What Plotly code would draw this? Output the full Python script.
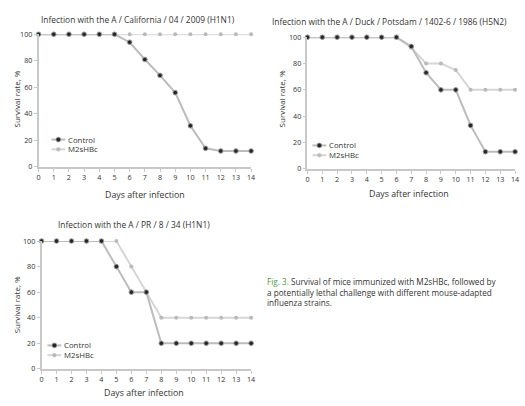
import plotly.graph_objects as go

W, H = 525, 406

DAYS = list(range(15))
SERIES_NAMES = ["Control", "M2sHBc"]
PANEL_TITLES = [
    "Infection with the A / California / 04 / 2009 (H1N1)",
    "Infection with the A / Duck / Potsdam / 1402-6 / 1986 (H5N2)",
    "Infection with the A / PR / 8 / 34 (H1N1)",
]
X_TITLE = "Days after infection"
Y_TITLE = "Survival rate, %"
Y_TICKS = [0, 20, 40, 60, 80, 100]

CAL_CONTROL = [100, 100, 100, 100, 100, 100, 94, 81, 69, 56, 31, 14, 12, 12, 12]
CAL_M2SHBC = [100, 100, 100, 100, 100, 100, 100, 100, 100, 100, 100, 100, 100, 100, 100]
DUCK_CONTROL = [100, 100, 100, 100, 100, 100, 100, 93, 73, 60, 60, 33, 13, 13, 13]
DUCK_M2SHBC = [100, 100, 100, 100, 100, 100, 100, 92, 80, 80, 75, 60, 60, 60, 60]
PR8_CONTROL = [100, 100, 100, 100, 100, 80, 60, 60, 20, 20, 20, 20, 20, 20, 20]
PR8_M2SHBC = [100, 100, 100, 100, 100, 100, 80, 60, 40, 40, 40, 40, 40, 40, 40]

CAPTION_LABEL = "Fig. 3."
CAPTION_TEXT = ("Survival of mice immunized with M2sHBc, followed by<br>"
                "a potentially lethal challenge with different mouse-adapted<br>"
                "influenza strains.")

FONT = "Open Sans"
TXT = "#333333"
C_CTRL_LINE = "#bcbcbc"
C_CTRL_MK = "#262626"
C_M2_LINE = "#d6d6d6"
C_M2_MK = "#bababa"
AX = "#c8c8c8"


def px(x):
    return x / W


def py(y):
    return 1 - y / H


# panel geometry in pixels: x0 (day 0), x1 (day 14), ytop (100 %), ybot (0 %)
panels = [
    dict(x0=37, x1=252, ytop=30, ybot=166, data=(CAL_CONTROL, CAL_M2SHBC),
         title=(138, 15), xt=(145, 195), yt=(15, 96), leg=(57, 138, 10)),
    dict(x0=309, x1=519, ytop=33, ybot=168, data=(DUCK_CONTROL, DUCK_M2SHBC),
         title=(392, 17), xt=(412, 194), yt=(283, 96), leg=(321, 144, 10)),
    dict(x0=40, x1=252, ytop=242, ybot=373, data=(PR8_CONTROL, PR8_M2SHBC),
         title=(134, 225), xt=(144, 398), yt=(15, 307), leg=(53, 349, 10)),
]

fig = go.Figure()
annotations = []
shapes = []

for i, p in enumerate(panels):
    n = "" if i == 0 else str(i + 1)
    xa, ya = "x" + n, "y" + n
    ctrl, m2 = p["data"]
    fig.add_trace(go.Scatter(
        x=DAYS, y=m2, xaxis=xa, yaxis=ya, mode="lines+markers", name=SERIES_NAMES[1],
        line=dict(color=C_M2_LINE, width=2),
        marker=dict(size=4, color=C_M2_MK, line=dict(width=0)),
        cliponaxis=False, showlegend=False))
    fig.add_trace(go.Scatter(
        x=DAYS, y=ctrl, xaxis=xa, yaxis=ya, mode="lines+markers", name=SERIES_NAMES[0],
        line=dict(color=C_CTRL_LINE, width=2),
        marker=dict(size=4.6, color=C_CTRL_MK, line=dict(width=1, color="#9a9a9a")),
        cliponaxis=False, showlegend=False))

    axcommon = dict(showgrid=False, zeroline=False, showline=True, linecolor=AX, linewidth=1.5,
                    ticks="outside", ticklen=3, tickcolor=AX, tickwidth=1,
                    tickfont=dict(size=7.2, color=TXT, family=FONT), fixedrange=True)
    fig.update_layout(**{
        "xaxis" + n: dict(domain=[px(p["x0"]), px(p["x1"])], range=[0, 14], anchor=ya,
                          tickmode="array", tickvals=DAYS, ticktext=[str(d) for d in DAYS],
                          **axcommon),
        "yaxis" + n: dict(domain=[py(p["ybot"]), py(p["ytop"])], range=[0, 100], anchor=xa,
                          tickmode="array", tickvals=Y_TICKS, ticktext=[str(t) for t in Y_TICKS],
                          **axcommon),
    })

    annotations.append(dict(text=PANEL_TITLES[i], x=px(p["title"][0]), y=py(p["title"][1]),
                            xref="paper", yref="paper", showarrow=False, xanchor="center",
                            yanchor="middle", font=dict(size=8.4, color=TXT, family=FONT)))
    annotations.append(dict(text=X_TITLE, x=px(p["xt"][0]), y=py(p["xt"][1]),
                            xref="paper", yref="paper", showarrow=False, xanchor="center",
                            yanchor="middle", font=dict(size=8.8, color=TXT, family=FONT)))
    annotations.append(dict(text=Y_TITLE, x=px(p["yt"][0]), y=py(p["yt"][1]), textangle=-90,
                            xref="paper", yref="paper", showarrow=False, xanchor="center",
                            yanchor="middle", font=dict(size=8, color=TXT, family=FONT)))

    # legend
    lx, ly, gap = p["leg"]
    for k, (lc, mc, ms, mlc) in enumerate([(C_CTRL_LINE, C_CTRL_MK, 2.4, "#9a9a9a"),
                                           (C_M2_LINE, C_M2_MK, 1.8, C_M2_MK)]):
        yy = ly + k * gap
        shapes.append(dict(type="line", xref="paper", yref="paper",
                           x0=px(lx - 7), x1=px(lx + 7), y0=py(yy), y1=py(yy),
                           line=dict(color=lc, width=2)))
        shapes.append(dict(type="circle", xref="paper", yref="paper",
                           x0=px(lx - ms), x1=px(lx + ms), y0=py(yy - ms), y1=py(yy + ms),
                           fillcolor=mc, line=dict(color=mlc, width=0.8)))
        annotations.append(dict(text=SERIES_NAMES[k], x=px(lx + 8), y=py(yy),
                                xref="paper", yref="paper", showarrow=False, xanchor="left",
                                yanchor="middle", font=dict(size=7.8, color=TXT, family=FONT)))

annotations.append(dict(
    text=f"<span style='color:#4f9a3a'>{CAPTION_LABEL}</span> {CAPTION_TEXT}",
    x=px(266), y=py(276), xref="paper", yref="paper", showarrow=False,
    xanchor="left", yanchor="top", align="left",
    font=dict(size=8.2, color=TXT, family=FONT)))

fig.update_layout(width=W, height=H, margin=dict(l=0, r=0, t=0, b=0),
                  paper_bgcolor="white", plot_bgcolor="white",
                  annotations=annotations, shapes=shapes, showlegend=False)

fig.write_html("out.html", config={"displayModeBar": False},
               post_script="document.body.style.margin='0';"
                           "document.body.style.overflow='hidden';")
